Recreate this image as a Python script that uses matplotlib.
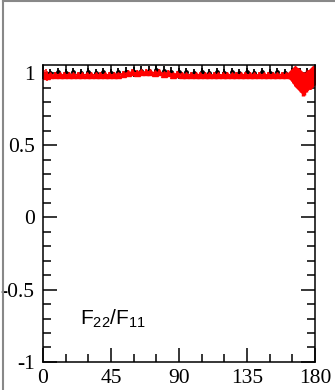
import numpy as np
import matplotlib
matplotlib.use("Agg")
import matplotlib.pyplot as plt
from matplotlib.ticker import MultipleLocator
from matplotlib.lines import Line2D

# black points (reference), every 5 degrees
blk_ang = [5, 10, 15, 20, 25, 30, 35, 40, 45, 50, 55, 60, 65, 70, 75, 80, 85, 90,
           95, 100, 105, 110, 115, 120, 125, 130, 135, 140, 145, 150, 155, 160, 165, 170, 175]
blk_val = [1.0, 1.005, 1.0, 1.005, 1.0, 1.005, 1.0, 1.005, 1.0, 1.005, 1.01, 1.01, 1.015, 1.015, 1.02, 1.015, 1.01, 1.005,
           1.005, 1.0, 1.005, 1.0, 1.005, 1.0, 1.005, 1.0, 1.005, 1.0, 1.005, 1.0, 1.005, 1.0, 1.005, 1.0, 1.0]
blk_err = [0.03, 0.03, 0.03, 0.03, 0.03, 0.03, 0.03, 0.03, 0.03, 0.03, 0.035, 0.035, 0.035, 0.035, 0.035, 0.035, 0.03, 0.03,
           0.03, 0.03, 0.03, 0.03, 0.03, 0.03, 0.03, 0.03, 0.03, 0.03, 0.03, 0.03, 0.03, 0.03, 0.03, 0.035, 0.035]

# red points (F22/F11)
red_ang = [1, 2, 3, 5, 8, 11, 14, 17, 20, 23, 26, 29, 32, 35, 38, 41, 44, 47, 50, 53, 56, 59,
           62, 65, 68, 71, 74, 77, 80, 83, 86, 89, 92, 95, 98, 101, 104, 107, 110, 113, 116,
           119, 122, 125, 128, 131, 134, 137, 140, 143, 146, 149, 152, 155, 158, 161, 164, 167,
           169, 170, 171, 172, 173, 174, 175, 176, 177, 178, 179]
red_val = [0.985, 0.99, 0.98, 0.99, 0.985, 0.99, 0.985, 0.99, 0.985, 0.99, 0.985, 0.99, 0.985, 0.99, 0.985, 0.99, 0.985, 0.99, 0.99, 0.995, 1.0, 1.005,
           1.0, 1.01, 1.005, 1.01, 1.0, 1.005, 0.995, 1.0, 0.99, 0.995, 0.99, 0.985, 0.99, 0.985, 0.99, 0.985, 0.99, 0.985, 0.99,
           0.985, 0.99, 0.985, 0.99, 0.985, 0.99, 0.985, 0.99, 0.985, 0.99, 0.985, 0.99, 0.985, 0.99, 0.985, 0.99, 0.985,
           0.97, 0.95, 0.94, 0.92, 0.93, 0.94, 0.95, 0.96, 0.95, 0.97, 0.99]
red_err = [0.035, 0.035, 0.035, 0.025, 0.02, 0.02, 0.02, 0.02, 0.02, 0.02, 0.02, 0.02, 0.02, 0.02, 0.02, 0.02, 0.02, 0.02, 0.02, 0.02, 0.02, 0.02,
           0.02, 0.02, 0.02, 0.02, 0.02, 0.02, 0.02, 0.02, 0.02, 0.02, 0.02, 0.02, 0.02, 0.02, 0.02, 0.02, 0.02, 0.02, 0.02,
           0.02, 0.02, 0.02, 0.02, 0.02, 0.02, 0.02, 0.02, 0.02, 0.02, 0.02, 0.02, 0.02, 0.02, 0.02, 0.02, 0.02,
           0.04, 0.06, 0.07, 0.08, 0.08, 0.07, 0.07, 0.06, 0.06, 0.05, 0.04]

xticks = [0, 45, 90, 135, 180]
yticks = [-1, -0.5, 0, 0.5, 1]
ytick_labels = ["-1", "-0.5", "0", "0.5", "1"]

plt.rcParams['font.family'] = ['Liberation Serif', 'DejaVu Serif']
plt.rcParams['mathtext.default'] = 'regular'

fig = plt.figure(figsize=(3.35, 3.9), dpi=100)
ax = fig.add_axes([0.128, 0.072, 0.812, 0.761])

ax.errorbar(blk_ang, blk_val, yerr=blk_err, fmt='o', color='black', ms=2.5, elinewidth=1.3, capsize=0)
ax.errorbar(red_ang[:-11], red_val[:-11], yerr=red_err[:-11], fmt='-^', color='red', ms=4, lw=1.3, elinewidth=1.1, capsize=0)
# the last few degrees are drawn with bigger symbols
ax.errorbar(red_ang[-12:], red_val[-12:], yerr=red_err[-12:], fmt='-D', color='red', ms=9, lw=2.5, elinewidth=2.5, capsize=0)

ax.set_xlim(0, 180)
ax.set_ylim(-1, 1.055)
ax.set_xticks(xticks)
ax.set_yticks(yticks)
ax.set_yticklabels(ytick_labels)
ax.xaxis.set_minor_locator(MultipleLocator(15))
ax.yaxis.set_minor_locator(MultipleLocator(0.1))
ax.tick_params(which='both', direction='in', top=True, right=True, labelsize=15.5, width=1.1)
ax.tick_params(which='major', length=10)
ax.tick_params(which='minor', length=5.5)
ax.tick_params(axis='y', pad=6)
ax.tick_params(axis='x', pad=5)
for s in ax.spines.values():
    s.set_linewidth(1.1)

ax.text(24.5, -0.745, "F$_{22}$/F$_{11}$", family=['Liberation Sans', 'DejaVu Sans'], fontsize=15)

# grey frame of the cropped panel
fig.add_artist(Line2D([0.009, 0.009], [0, 0.997], transform=fig.transFigure, color='#888888', lw=1.5))
fig.add_artist(Line2D([0.009, 1.0], [0.997, 0.997], transform=fig.transFigure, color='#888888', lw=1.5))

plt.savefig("out.png", dpi=100)
